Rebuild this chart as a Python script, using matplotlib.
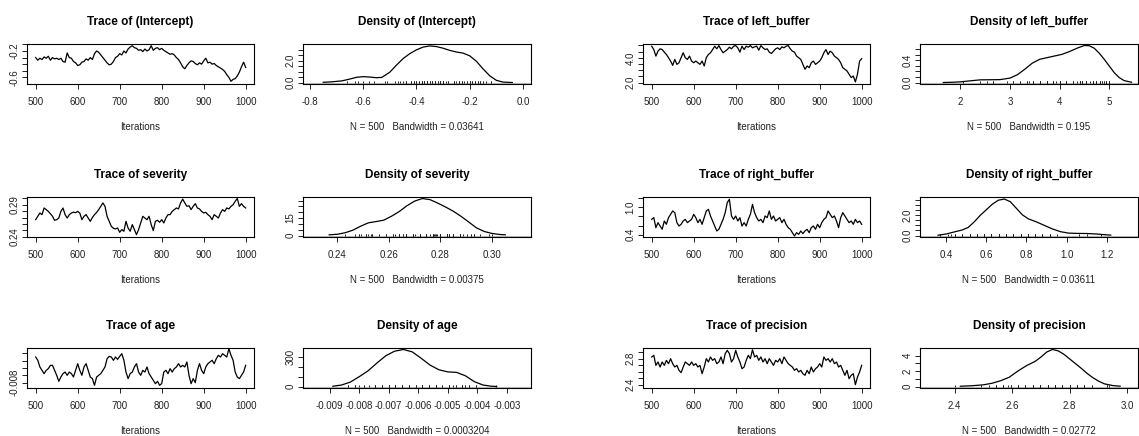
import numpy as np
import matplotlib
matplotlib.use("Agg")
import matplotlib.pyplot as plt

# MCMC draws (every 5th iteration, 500..1000)
intercept = [-0.30, -0.34, -0.31, -0.33, -0.29, -0.31, -0.28, -0.34, -0.30, -0.32,
             -0.31, -0.33, -0.31, -0.36, -0.37, -0.23, -0.30, -0.31, -0.36, -0.38,
             -0.42, -0.41, -0.37, -0.36, -0.32, -0.34, -0.30, -0.33, -0.24, -0.20,
             -0.22, -0.26, -0.30, -0.34, -0.38, -0.41, -0.40, -0.36, -0.30, -0.28,
             -0.24, -0.26, -0.20, -0.23, -0.17, -0.14, -0.12, -0.15, -0.16, -0.19,
             -0.18, -0.21, -0.17, -0.20, -0.18, -0.12, -0.19, -0.16, -0.15, -0.18,
             -0.16, -0.19, -0.21, -0.23, -0.25, -0.24, -0.26, -0.30, -0.33, -0.38,
             -0.44, -0.47, -0.42, -0.38, -0.35, -0.36, -0.39, -0.41, -0.38, -0.40,
             -0.35, -0.31, -0.38, -0.37, -0.40, -0.39, -0.42, -0.44, -0.46, -0.48,
             -0.51, -0.56, -0.60, -0.66, -0.63, -0.62, -0.58, -0.52, -0.44, -0.37,
             -0.45]
severity = [0.2666, 0.2720, 0.2771, 0.2745, 0.2850, 0.2824, 0.2797, 0.2760, 0.2719, 0.2656,
            0.2666, 0.2692, 0.2797, 0.2850, 0.2745, 0.2692, 0.2745, 0.2770, 0.2785, 0.2775,
            0.2797, 0.2770, 0.2666, 0.2719, 0.2745, 0.2692, 0.2640, 0.2700, 0.2745, 0.2780,
            0.2824, 0.2876, 0.2930, 0.2876, 0.2719, 0.2640, 0.2562, 0.2530, 0.2520, 0.2535,
            0.2467, 0.2510, 0.2483, 0.2640, 0.2535, 0.2483, 0.2588, 0.2510, 0.2430, 0.2510,
            0.2614, 0.2719, 0.2692, 0.2666, 0.2719, 0.2588, 0.2493, 0.2640, 0.2656, 0.2625,
            0.2666, 0.2614, 0.2692, 0.2745, 0.2745, 0.2797, 0.2824, 0.2850, 0.2835, 0.2930,
            0.2990, 0.2930, 0.2876, 0.2886, 0.2824, 0.2876, 0.2918, 0.2850, 0.2835, 0.2797,
            0.2771, 0.2782, 0.2745, 0.2719, 0.2666, 0.2745, 0.2719, 0.2692, 0.2771, 0.2824,
            0.2797, 0.2850, 0.2835, 0.2876, 0.2902, 0.2955, 0.3000, 0.2876, 0.2918, 0.2876,
            0.2850]
age = [-0.00450, -0.00495, -0.00586, -0.00632, -0.00677, -0.00632, -0.00609, -0.00564, -0.00564, -0.00632,
       -0.00700, -0.00782, -0.00723, -0.00677, -0.00655, -0.00700, -0.00655, -0.00677, -0.00723, -0.00632,
       -0.00541, -0.00632, -0.00700, -0.00586, -0.00541, -0.00632, -0.00723, -0.00745, -0.00836, -0.00723,
       -0.00700, -0.00677, -0.00632, -0.00586, -0.00473, -0.00441, -0.00450, -0.00495, -0.00450, -0.00482,
       -0.00441, -0.00405, -0.00495, -0.00655, -0.00745, -0.00677, -0.00655, -0.00586, -0.00541, -0.00655,
       -0.00700, -0.00632, -0.00655, -0.00586, -0.00677, -0.00723, -0.00768, -0.00814, -0.00782, -0.00836,
       -0.00814, -0.00655, -0.00632, -0.00677, -0.00609, -0.00655, -0.00609, -0.00586, -0.00541, -0.00586,
       -0.00564, -0.00586, -0.00518, -0.00700, -0.00814, -0.00745, -0.00800, -0.00632, -0.00541, -0.00632,
       -0.00677, -0.00586, -0.00541, -0.00518, -0.00495, -0.00541, -0.00473, -0.00427, -0.00450, -0.00405,
       -0.00427, -0.00450, -0.00336, -0.00427, -0.00495, -0.00655, -0.00723, -0.00745, -0.00700, -0.00655,
       -0.00564]
left_buffer = [4.94, 4.67, 4.14, 4.54, 4.73, 4.67, 4.46, 4.27, 4.01, 3.74,
               3.39, 3.87, 3.47, 3.60, 4.01, 4.41, 4.01, 3.87, 4.14, 3.74,
               3.60, 3.74, 3.60, 3.47, 3.74, 3.34, 4.01, 4.27, 4.41, 4.67,
               4.94, 4.73, 4.99, 4.67, 4.41, 4.54, 4.67, 4.86, 4.73, 4.94,
               4.99, 4.81, 4.46, 4.94, 4.67, 4.94, 4.86, 4.99, 4.81, 4.89,
               4.94, 4.62, 4.99, 4.81, 4.67, 4.73, 4.46, 4.35, 4.54, 4.73,
               4.81, 4.67, 4.89, 4.81, 4.94, 4.99, 4.73, 4.54, 4.46, 4.14,
               4.01, 3.87, 3.47, 3.07, 3.34, 3.20, 3.60, 3.74, 3.47, 3.60,
               3.74, 4.01, 4.41, 4.67, 4.27, 4.54, 4.41, 4.14, 4.01, 3.87,
               3.60, 3.20, 3.07, 2.94, 2.67, 2.40, 2.53, 2.05, 2.67, 3.74,
               3.93]
right_buffer = [0.734, 0.771, 0.553, 0.662, 0.589, 0.517, 0.698, 0.626, 0.771, 0.843,
                0.916, 0.879, 0.662, 0.589, 0.626, 0.698, 0.734, 0.662, 0.698, 0.734,
                0.843, 0.771, 0.662, 0.734, 0.626, 0.771, 0.916, 0.952, 0.807, 0.698,
                0.589, 0.481, 0.517, 0.626, 0.734, 0.879, 1.100, 1.170, 0.807, 0.734,
                0.807, 0.698, 0.771, 0.589, 0.662, 0.589, 0.734, 0.843, 1.060, 0.879,
                0.771, 0.698, 0.734, 0.662, 0.807, 0.771, 0.916, 0.734, 0.807, 0.698,
                0.734, 0.771, 0.662, 0.734, 0.626, 0.553, 0.517, 0.444, 0.372, 0.444,
                0.408, 0.481, 0.423, 0.481, 0.517, 0.444, 0.553, 0.589, 0.517, 0.626,
                0.553, 0.662, 0.734, 0.771, 0.916, 0.843, 0.771, 0.807, 0.698, 0.553,
                0.771, 0.879, 0.807, 0.734, 0.662, 0.698, 0.626, 0.734, 0.662, 0.698,
                0.626]
precision = [2.826, 2.851, 2.697, 2.749, 2.672, 2.749, 2.697, 2.774, 2.723, 2.800,
             2.723, 2.672, 2.697, 2.621, 2.585, 2.672, 2.749, 2.723, 2.697, 2.749,
             2.697, 2.723, 2.672, 2.697, 2.569, 2.672, 2.800, 2.749, 2.826, 2.774,
             2.800, 2.723, 2.749, 2.826, 2.723, 2.877, 2.928, 2.877, 2.749, 2.800,
             2.928, 2.826, 2.749, 2.646, 2.672, 2.774, 2.851, 2.800, 2.938, 2.826,
             2.851, 2.774, 2.826, 2.749, 2.800, 2.723, 2.800, 2.749, 2.697, 2.774,
             2.749, 2.800, 2.723, 2.826, 2.774, 2.723, 2.697, 2.672, 2.621, 2.646,
             2.595, 2.621, 2.569, 2.544, 2.621, 2.569, 2.672, 2.595, 2.646, 2.672,
             2.723, 2.672, 2.826, 2.774, 2.800, 2.749, 2.800, 2.723, 2.749, 2.672,
             2.697, 2.621, 2.544, 2.621, 2.492, 2.544, 2.569, 2.400, 2.518, 2.595,
             2.697]

# density curves
dens_intercept_x = [-0.75, -0.72, -0.68, -0.65, -0.625, -0.60, -0.575, -0.55, -0.53, -0.50,
                    -0.475, -0.45, -0.425, -0.40, -0.375, -0.35, -0.325, -0.30, -0.275, -0.25,
                    -0.225, -0.20, -0.175, -0.15, -0.125, -0.10, -0.075, -0.04]
dens_intercept_y = [0.02, 0.06, 0.15, 0.32, 0.48, 0.54, 0.50, 0.44, 0.47, 0.95,
                    1.6, 2.2, 2.65, 3.0, 3.25, 3.36, 3.30, 3.15, 2.95, 2.80,
                    2.70, 2.45, 1.95, 1.25, 0.62, 0.2, 0.04, 0.0]
dens_severity_x = [0.2368, 0.2400, 0.2430, 0.2460, 0.2490, 0.2520, 0.2550, 0.2580, 0.2610, 0.2640,
                   0.2670, 0.2700, 0.2730, 0.2760, 0.2790, 0.2820, 0.2850, 0.2880, 0.2910, 0.2940,
                   0.2970, 0.3000, 0.3030, 0.3052]
dens_severity_y = [0.6, 1.1, 2.4, 4.6, 8.0, 10.9, 12.0, 13.2, 16.6, 20.6,
                   25.6, 29.6, 31.8, 30.8, 27.8, 24.5, 20.9, 16.5, 11.6, 6.6,
                   3.5, 1.8, 0.9, 0.6]
dens_age_x = [-0.00889, -0.0086, -0.0083, -0.0080, -0.0077, -0.0074, -0.0071, -0.0068, -0.0065, -0.0062,
              -0.0059, -0.0056, -0.0053, -0.0050, -0.0047, -0.0044, -0.0041, -0.0038, -0.00355, -0.00334]
dens_age_y = [3, 15, 45, 100, 160, 240, 315, 362, 380, 355,
              290, 220, 172, 150, 145, 110, 50, 15, 4, 0]
dens_left_x = [1.66, 1.85, 2.0, 2.2, 2.4, 2.6, 2.8, 3.0, 3.15, 3.3,
               3.45, 3.6, 3.75, 3.9, 4.05, 4.2, 4.35, 4.5, 4.6, 4.7,
               4.8, 4.9, 5.0, 5.1, 5.2, 5.3, 5.45]
dens_left_y = [0.0, 0.005, 0.012, 0.03, 0.048, 0.05, 0.052, 0.08, 0.14, 0.24,
               0.35, 0.42, 0.45, 0.48, 0.51, 0.56, 0.62, 0.67, 0.665, 0.62,
               0.53, 0.42, 0.30, 0.18, 0.09, 0.035, 0.005]
dens_right_x = [0.36, 0.40, 0.44, 0.48, 0.51, 0.54, 0.57, 0.60, 0.63, 0.66,
                0.69, 0.72, 0.75, 0.78, 0.81, 0.85, 0.89, 0.93, 0.97, 1.01,
                1.05, 1.10, 1.15, 1.19, 1.22]
dens_right_y = [0.03, 0.15, 0.35, 0.55, 0.8, 1.35, 2.0, 2.55, 3.1, 3.5,
                3.62, 3.35, 2.7, 2.05, 1.65, 1.35, 1.0, 0.65, 0.38, 0.24,
                0.21, 0.2, 0.15, 0.08, 0.04]
dens_prec_x = [2.42, 2.46, 2.50, 2.53, 2.56, 2.59, 2.62, 2.65, 2.68, 2.70,
               2.72, 2.74, 2.76, 2.78, 2.80, 2.82, 2.84, 2.86, 2.88, 2.90,
               2.92, 2.95, 2.975]
dens_prec_y = [0.04, 0.1, 0.22, 0.42, 0.75, 1.2, 2.0, 2.7, 3.25, 3.8,
               4.45, 4.78, 4.6, 4.15, 3.55, 2.95, 2.35, 1.7, 1.15, 0.7,
               0.35, 0.12, 0.04]

bandwidths = ["0.03641", "0.00375", "0.0003204", "0.195", "0.03611", "0.02772"]

plt.rcParams['font.family'] = ['Liberation Sans Narrow', 'Liberation Sans', 'DejaVu Sans']

W, H = 1139, 436
fig = plt.figure(figsize=(W / 100, H / 100), dpi=100)


def box(x0, x1, top, h=40):
    return fig.add_axes([x0 / W, 1 - (top + h) / H, (x1 - x0) / W, h / H])


def decorate(ax, title, xlabel, xticks, xlabels, ylim, yticks, ylabels, xlim):
    for s in ax.spines.values():
        s.set_linewidth(0.8)
    ax.set_xlim(*xlim)
    ax.set_ylim(*ylim)
    ax.set_xticks(xticks)
    ax.set_xticklabels(xlabels)
    ax.set_yticks(yticks)
    ax.set_yticklabels(ylabels, rotation=90, va='center')
    ax.tick_params(direction='out', length=3.5, width=0.7, labelsize=7, colors='#222222')
    ax.tick_params(axis='x', pad=6)
    ax.tick_params(axis='y', pad=2)
    ax.text(0.5, 1.55, title, transform=ax.transAxes, ha='center', va='center',
            fontsize=8.5, fontweight='bold')
    ax.text(0.5, -1.07, xlabel, transform=ax.transAxes, ha='center', va='center',
            fontsize=7, color='#222222')


def trace_panel(x0, x1, top, name, vals, ylim, yticks, ylabels):
    ax = box(x0, x1, top)
    its = np.linspace(500, 1000, len(vals))
    ax.plot(its, vals, color='black', lw=0.9)
    decorate(ax, "Trace of " + name, "Iterations",
             [500, 600, 700, 800, 900, 1000], ["500", "600", "700", "800", "900", "1000"],
             ylim, yticks, ylabels, (479.3, 1019.8))


def dens_panel(x0, x1, top, name, dx, dy, vals, bw, xlim, xticks, xlabels, ylim, yticks, ylabels):
    ax = box(x0, x1, top)
    ax.axhline(0, color='#bbbbbb', lw=0.8)
    ax.vlines(vals, 0, ylim[1] * 0.04, color='#222222', lw=0.7)
    ax.plot(dx, dy, color='black', lw=0.9)
    decorate(ax, "Density of " + name, "N = 500   Bandwidth = " + bw,
             xticks, xlabels, ylim, yticks, ylabels, xlim)


rows = [44, 197, 348]

# left group
trace_panel(27, 254, rows[0], "(Intercept)", intercept, (-0.701, -0.094),
            [-0.6, -0.5, -0.4, -0.3, -0.2, -0.1], ["-0.6", "", "", "", "-0.2", ""])
dens_panel(303, 531, rows[0], "(Intercept)", dens_intercept_x, dens_intercept_y, intercept,
           bandwidths[0], (-0.826, 0.030), [-0.8, -0.6, -0.4, -0.2, 0.0],
           ["-0.8", "-0.6", "-0.4", "-0.2", "0.0"], (-0.136, 3.536),
           [0, 0.5, 1.0, 1.5, 2.0, 2.5, 3.0], ["0.0", "", "", "", "2.0", "", ""])

trace_panel(27, 254, rows[1], "severity", severity, (0.2393, 0.3023),
            [0.24, 0.25, 0.26, 0.27, 0.28, 0.29, 0.30], ["0.24", "", "", "", "", "0.29", ""])
dens_panel(303, 531, rows[1], "severity", dens_severity_x, dens_severity_y, severity,
           bandwidths[1], (0.2266, 0.3152), [0.24, 0.26, 0.28, 0.30],
           ["0.24", "0.26", "0.28", "0.30"], (-1.27, 33.1),
           [0, 5, 10, 15, 20, 25, 30], ["0", "", "", "15", "", "", ""])

trace_panel(27, 254, rows[2], "age", age, (-0.00873, -0.00327),
            [-0.008, -0.007, -0.006, -0.005, -0.004], ["-0.008", "", "", "", ""])
dens_panel(303, 531, rows[2], "age", dens_age_x, dens_age_y, age,
           bandwidths[2], (-0.0099, -0.00218),
           [-0.009, -0.008, -0.007, -0.006, -0.005, -0.004, -0.003],
           ["-0.009", "-0.008", "-0.007", "-0.006", "-0.005", "-0.004", "-0.003"],
           (-15.2, 395), [0, 100, 200, 300], ["0", "", "", "300"])

# right group
trace_panel(643, 870, rows[0], "left_buffer", left_buffer, (1.88, 5.12),
            [2.0, 2.5, 3.0, 3.5, 4.0, 4.5, 5.0], ["2.0", "", "", "", "4.0", "", ""])
dens_panel(920, 1138, rows[0], "left_buffer", dens_left_x, dens_left_y, left_buffer,
           bandwidths[3], (1.19, 5.58), [2, 3, 4, 5], ["2", "3", "4", "5"],
           (-0.027, 0.697), [0, 0.1, 0.2, 0.3, 0.4, 0.5, 0.6],
           ["0.0", "", "", "", "0.4", "", ""])

trace_panel(643, 870, rows[1], "right_buffer", right_buffer, (0.35, 1.22),
            [0.4, 0.6, 0.8, 1.0, 1.2], ["0.4", "", "", "1.0", ""])
dens_panel(920, 1138, rows[1], "right_buffer", dens_right_x, dens_right_y, right_buffer,
           bandwidths[4], (0.27, 1.356), [0.4, 0.6, 0.8, 1.0, 1.2],
           ["0.4", "0.6", "0.8", "1.0", "1.2"], (-0.147, 3.82),
           [0, 0.5, 1.0, 1.5, 2.0, 2.5, 3.0, 3.5], ["0.0", "", "", "", "2.0", "", "", ""])

trace_panel(643, 870, rows[2], "precision", precision, (2.349, 2.964),
            [2.4, 2.5, 2.6, 2.7, 2.8, 2.9], ["2.4", "", "", "", "2.8", ""])
dens_panel(920, 1138, rows[2], "precision", dens_prec_x, dens_prec_y, precision,
           bandwidths[5], (2.28, 3.037), [2.4, 2.6, 2.8, 3.0], ["2.4", "2.6", "2.8", "3.0"],
           (-0.19, 4.97), [0, 1, 2, 3, 4], ["0", "", "2", "", "4"])

fig.savefig("out.png", dpi=100)
